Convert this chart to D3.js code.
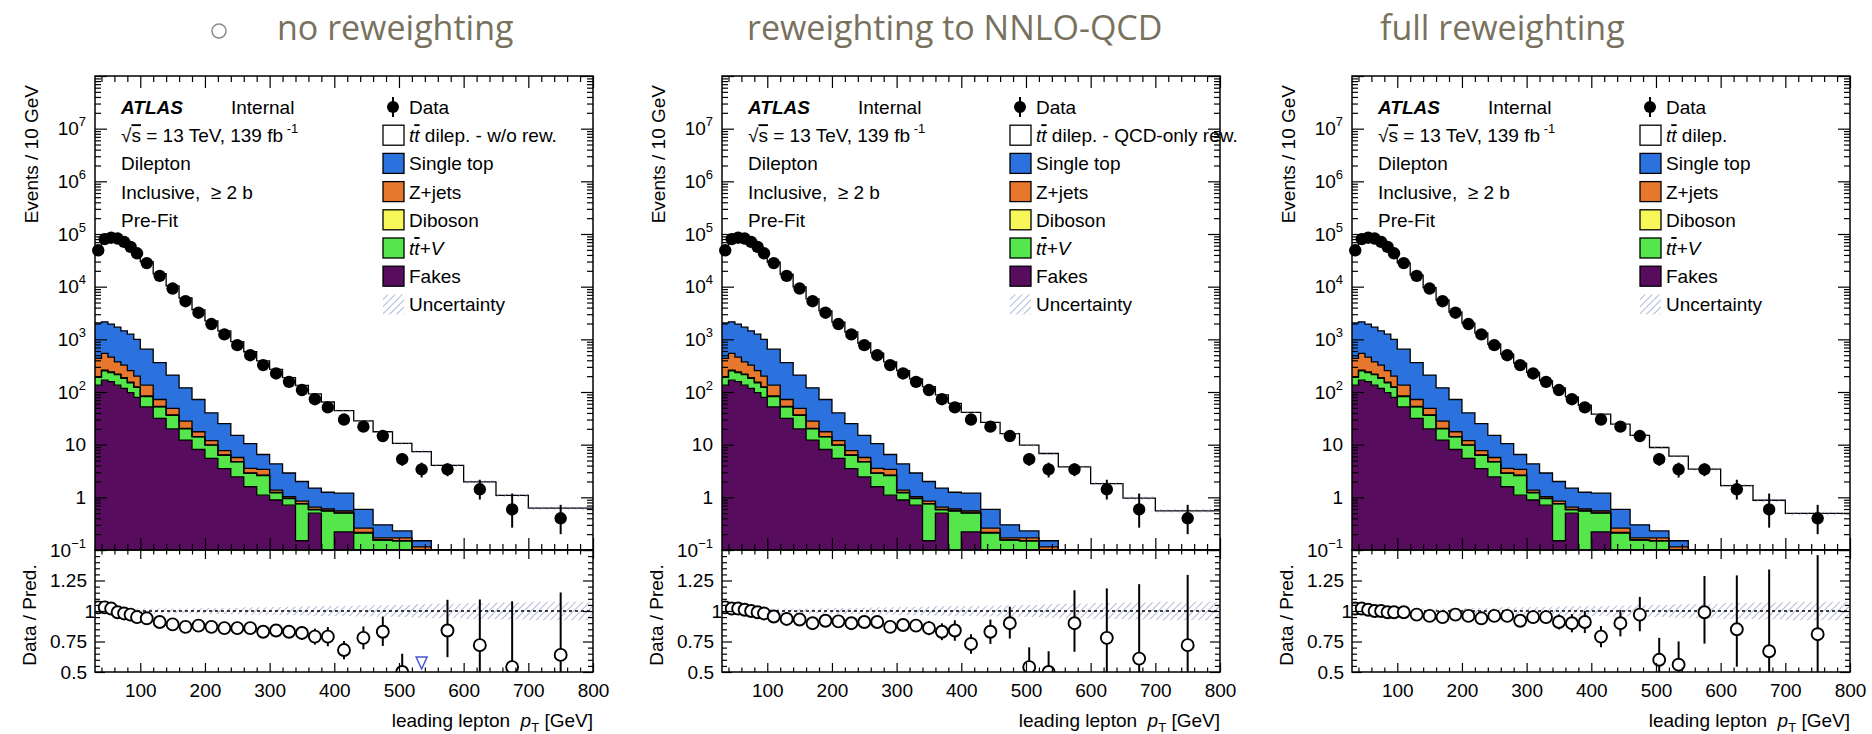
<!DOCTYPE html>
<html>
<head>
<meta charset="utf-8">
<script src="https://cdn.jsdelivr.net/npm/d3@7"></script>
<style>
  body { margin: 0; background: #fff; }
  svg text { font-family: "Liberation Sans", Arial, Helvetica, sans-serif; }
</style>
</head>
<body>
<svg id="chart" width="1872" height="734"></svg>
<script>
// bin edges of leading lepton pT [GeV]
const binEdges = [30,40,50,60,70,80,90,100,120,140,160,180,200,220,240,260,280,300,320,340,360,380,400,430,460,490,520,550,600,650,700,800];

// data, events / 10 GeV (same in all three panels)
const dataVals = [49000,80000,85000,82000,71000,57000,43000,28000,16000,9200,5300,3200,1950,1240,775,500,324,225,156,109,73,51,30,22,14.6,5.3,3.4,3.4,1.42,0.59,0.40];
const dataErrUp = [0.005,0.004,0.004,0.004,0.004,0.004,0.005,0.005,0.006,0.008,0.011,0.013,0.016,0.02,0.025,0.032,0.04,0.047,0.057,0.068,0.083,0.1,0.11,0.12,0.15,0.3,0.34,0.3,0.52,1.0,0.8];
const dataErrDn = [0.005,0.004,0.004,0.004,0.004,0.004,0.005,0.005,0.006,0.008,0.011,0.013,0.016,0.02,0.025,0.032,0.04,0.047,0.057,0.068,0.083,0.1,0.11,0.12,0.14,0.25,0.3,0.26,0.36,0.55,0.5];

// backgrounds, events / 10 GeV
const fakes     = [135,168,158,135,117,97,79,52,31.6,20,12.2,8.1,5.5,3.5,2.45,1.59,1.1,0.89,0.71,0.15,0.5,0,0.22,0,0,0,0,0,0,0,0];
const ttV       = [54,85,76,79,65,53,43,30,20.4,16,7.8,5.9,4.3,2.8,2.25,1.26,1.5,0.33,0.24,0.6,0.08,0.55,0.28,0.21,0.155,0.15,0.1,0,0,0,0];
const diboson   = [6,7,6,5,4.5,3.5,2.8,2,1.1,0.7,0.4,0.25,0.15,0.1,0.07,0.05,0.04,0.02,0.015,0.01,0.01,0.01,0.005,0.005,0,0,0,0,0,0,0];
const zjets     = [240,280,220,153,136,100,75,51,18.9,12.3,7.6,3.35,1.95,1.3,0.93,0.65,0.76,0.13,0.065,0.09,0.06,0.04,0.045,0.045,0.015,0.02,0.015,0,0,0,0];
const singleTop = [1615,1610,1490,1328,1127,997,800,515,288,161,92,54.4,28.1,17.3,9.3,6.95,3.1,2.93,1.87,1.15,0.85,0.65,0.65,0.33,0.13,0.06,0.035,0,0,0,0];

// Data / Pred. for each reweighting
const ratioNoRew = [1.03,1.03,1.02,0.99,0.98,0.97,0.95,0.94,0.91,0.89,0.87,0.88,0.87,0.86,0.86,0.86,0.83,0.84,0.83,0.82,0.79,0.79,0.68,0.78,0.83,0.50,0.46,0.84,0.72,0.54,0.64];
const ratioNNLO  = [1.03,1.02,1.02,1.01,1.00,0.99,0.98,0.955,0.935,0.93,0.90,0.92,0.915,0.90,0.91,0.91,0.87,0.885,0.88,0.86,0.83,0.84,0.73,0.83,0.90,0.54,0.50,0.90,0.78,0.61,0.72];
const ratioFull  = [1.02,1.02,1.01,1.00,1.00,0.99,0.99,0.99,0.97,0.96,0.95,0.97,0.96,0.94,0.96,0.96,0.92,0.95,0.95,0.91,0.90,0.91,0.79,0.90,0.97,0.60,0.56,0.99,0.85,0.67,0.81];

// relative total uncertainty of the prediction
const predUnc = [0.02,0.02,0.02,0.02,0.02,0.02,0.02,0.02,0.02,0.02,0.02,0.022,0.024,0.025,0.027,0.03,0.03,0.032,0.034,0.036,0.038,0.04,0.042,0.045,0.048,0.05,0.055,0.06,0.065,0.07,0.075];

const titles = ["no reweighting", "reweighting to NNLO-QCD", "full reweighting"];
const ttbarLabels = [" dilep. - w/o rew.", " dilep. - QCD-only rew.", " dilep."];
const ratios = [ratioNoRew, ratioNNLO, ratioFull];
const infoLines = ["Dilepton", "Inclusive,  \u2265 2 b", "Pre-Fit"];
const xMajor = [100,200,300,400,500,600,700,800];
const ratioMajor = [0.5,0.75,1,1.25,1.5];

const svg = d3.select("#chart");
const W = 498, TOP = 76, SPLIT = 550, BOT = 672;
const lefts = [95, 722, 1352];
const titleX = [277, 747, 1380];

const colors = { fakes: "#570c5e", ttV: "#54e64a", diboson: "#f7f75a", zjets: "#e8772e", single: "#2b72df" };
const stackKeys = ["fakes", "ttV", "diboson", "zjets", "single"];

const bins = binEdges.slice(0, -1).map((lo, i) => ({ lo, hi: binEdges[i + 1], c: (lo + binEdges[i + 1]) / 2 }));
const rows = bins.map((b, i) => ({ fakes: fakes[i], ttV: ttV[i], diboson: diboson[i], zjets: zjets[i], single: singleTop[i] }));
const layers = d3.stack().keys(stackKeys)(rows);

const defs = svg.append("defs");
defs.append("pattern").attr("id", "hatch")
  .attr("patternUnits", "userSpaceOnUse").attr("width", 5).attr("height", 5)
  .attr("patternTransform", "rotate(45)")
  .append("line").attr("x1", 0).attr("y1", 0).attr("x2", 0).attr("y2", 5)
  .attr("stroke", "#7f88bd").attr("stroke-width", 1.2);

const x = d3.scaleLinear().domain([30, 800]).range([0, W]);
const yU = d3.scaleLog().domain([0.1, 1e8]).range([SPLIT, TOP]).clamp(true);
const yR = d3.scaleLinear().domain([0.5, 1.5]).range([BOT, SPLIT]);

const decades = d3.range(-1, 9).map(k => Math.pow(10, k));
const logMinor = [];
for (let k = -1; k < 8; k++) for (let m = 2; m < 10; m++) logMinor.push(m * Math.pow(10, k));
const xMinor = d3.range(40, 800, 20).filter(v => v % 100 !== 0);
const ratioMinor = d3.range(0.55, 1.5, 0.05).filter(v => Math.abs(v * 4 - Math.round(v * 4)) > 1e-6);

const stepPts = (lo, hi) => bins.flatMap((b, i) => [{ x: b.lo, a: lo(i), b: hi(i) }, { x: b.hi, a: lo(i), b: hi(i) }]);
const safe = v => Math.max(v, 1e-4);

function supLabel(sel) {
  sel.each(function (d) {
    const t = d3.select(this);
    t.text(null);
    const e = Math.round(Math.log10(d));
    if (e === 8) return;
    if (e === 0) t.text("1");
    else if (e === 1) t.text("10");
    else {
      t.append("tspan").text("10");
      t.append("tspan").attr("dy", -9).attr("font-size", 13).text(e < 0 ? "\u2212" + (-e) : e);
    }
  });
}

function styleAxis(g, size) {
  g.select(".domain").remove();
  g.selectAll("line").attr("stroke", "#000").attr("stroke-width", 1.2);
  g.attr("font-size", size || 19).attr("fill", "#000");
  g.selectAll("text").attr("fill", "#000");
}

lefts.forEach((left, p) => {
  const ratio = ratios[p];
  const total = dataVals.map((d, i) => d / ratio[i]);
  const bkgTop = layers[layers.length - 1].map(d => d[1]);
  const g = svg.append("g").attr("transform", `translate(${left},0)`);

  g.append("clipPath").attr("id", "clipU" + p).append("rect").attr("x", 0).attr("y", TOP).attr("width", W).attr("height", SPLIT - TOP);
  g.append("clipPath").attr("id", "clipR" + p).append("rect").attr("x", 0).attr("y", SPLIT).attr("width", W).attr("height", BOT - SPLIT);

  const up = g.append("g").attr("clip-path", `url(#clipU${p})`);
  const area = d3.area().x(d => x(d.x)).y0(d => yU(safe(d.a))).y1(d => yU(safe(d.b)));
  const line = d3.line().x(d => x(d.x)).y(d => yU(safe(d.b)));

  // ttbar on top of the backgrounds (white)
  const ttPts = stepPts(i => bkgTop[i], i => total[i]);
  up.append("path").attr("d", area(ttPts)).attr("fill", "#fff");
  layers.forEach(L => {
    const pts = stepPts(i => L[i][0], i => L[i][1]);
    up.append("path").attr("d", area(pts)).attr("fill", colors[L.key]);
  });
  layers.forEach(L => {
    const pts = stepPts(i => L[i][0], i => L[i][1]);
    up.append("path").attr("d", line(pts)).attr("fill", "none").attr("stroke", "#000").attr("stroke-width", 1.3);
  });
  up.append("path").attr("d", line(ttPts)).attr("fill", "none").attr("stroke", "#000").attr("stroke-width", 1.3);
  // uncertainty band on the prediction
  up.append("path").attr("d", area(stepPts(i => total[i] * (1 - predUnc[i]), i => total[i] * (1 + predUnc[i]))))
    .attr("fill", "url(#hatch)");

  // data
  const dg = g.append("g");
  bins.forEach((b, i) => {
    dg.append("line").attr("x1", x(b.c)).attr("x2", x(b.c))
      .attr("y1", yU(dataVals[i] * (1 - dataErrDn[i]))).attr("y2", yU(dataVals[i] * (1 + dataErrUp[i])))
      .attr("stroke", "#000").attr("stroke-width", 2);
    dg.append("circle").attr("cx", x(b.c)).attr("cy", yU(dataVals[i])).attr("r", 6.2).attr("fill", "#000");
  });

  // ratio panel
  const rp = g.append("g").attr("clip-path", `url(#clipR${p})`);
  const rArea = d3.area().x(d => x(d.x)).y0(d => yR(d.a)).y1(d => yR(d.b));
  rp.append("path").attr("d", rArea(stepPts(i => 1 - predUnc[i], i => 1 + predUnc[i]))).attr("fill", "url(#hatch)");
  rp.append("line").attr("x1", 0).attr("x2", W).attr("y1", yR(1)).attr("y2", yR(1))
    .attr("stroke", "#000").attr("stroke-width", 1.6).attr("stroke-dasharray", "3,3");
  bins.forEach((b, i) => {
    const r = ratio[i];
    const hi = r * (1 + dataErrUp[i]), lo = r * (1 - dataErrDn[i]);
    if (r < 0.5) {
      const apex = yR(0.5) - 3;
      if (hi > 0.5) rp.append("line").attr("x1", x(b.c)).attr("x2", x(b.c)).attr("y1", apex - 12).attr("y2", yR(hi))
        .attr("stroke", "#000").attr("stroke-width", 2);
      rp.append("path").attr("d", `M${x(b.c) - 5.5},${apex - 12}L${x(b.c) + 5.5},${apex - 12}L${x(b.c)},${apex}Z`)
        .attr("fill", "#fff").attr("stroke", "#4a55d6").attr("stroke-width", 1.5);
      return;
    }
    rp.append("line").attr("x1", x(b.c)).attr("x2", x(b.c)).attr("y1", yR(lo)).attr("y2", yR(hi))
      .attr("stroke", "#000").attr("stroke-width", 2);
    rp.append("circle").attr("cx", x(b.c)).attr("cy", yR(r)).attr("r", 6)
      .attr("fill", "#fff").attr("stroke", "#000").attr("stroke-width", 1.9);
  });

  // axes (inward ticks, ROOT style)
  g.append("g").call(d3.axisLeft(yU).tickValues(decades).tickSize(-12).tickPadding(9))
    .call(a => styleAxis(a)).call(a => a.selectAll("text").call(supLabel));
  g.append("g").call(d3.axisLeft(yU).tickValues(logMinor).tickSize(-6).tickFormat("")).call(a => styleAxis(a));
  g.append("g").attr("transform", `translate(${W},0)`).call(d3.axisRight(yU).tickValues(decades).tickSize(-12).tickFormat("")).call(a => styleAxis(a));
  g.append("g").attr("transform", `translate(${W},0)`).call(d3.axisRight(yU).tickValues(logMinor).tickSize(-6).tickFormat("")).call(a => styleAxis(a));

  [[TOP, d3.axisTop, -12, -6], [SPLIT, d3.axisBottom, -12, -6], [SPLIT, d3.axisTop, -9, -4.5], [BOT, d3.axisBottom, -9, -4.5]]
    .forEach(([yy, ax, big, small]) => {
      g.append("g").attr("transform", `translate(0,${yy})`).call(ax(x).tickValues(xMajor).tickSize(big).tickFormat("")).call(a => styleAxis(a));
      g.append("g").attr("transform", `translate(0,${yy})`).call(ax(x).tickValues(xMinor).tickSize(small).tickFormat("")).call(a => styleAxis(a));
    });

  g.append("g").attr("transform", `translate(0,${BOT})`)
    .call(d3.axisBottom(x).tickValues(xMajor).tickSize(0).tickPadding(11.5).tickFormat(d3.format("d")))
    .call(a => styleAxis(a));

  g.append("g").call(d3.axisLeft(yR).tickValues(ratioMajor).tickSize(-10).tickPadding(8).tickFormat(d => d === 1.5 ? "" : String(d)))
    .call(a => styleAxis(a))
    .call(a => a.selectAll("text").filter(d => d === 1).attr("x", 0));
  g.append("g").call(d3.axisLeft(yR).tickValues(ratioMinor).tickSize(-5).tickFormat("")).call(a => styleAxis(a));
  g.append("g").attr("transform", `translate(${W},0)`).call(d3.axisRight(yR).tickValues(ratioMajor).tickSize(-10).tickFormat("")).call(a => styleAxis(a));
  g.append("g").attr("transform", `translate(${W},0)`).call(d3.axisRight(yR).tickValues(ratioMinor).tickSize(-5).tickFormat("")).call(a => styleAxis(a));

  // frames
  g.append("rect").attr("x", 0).attr("y", TOP).attr("width", W).attr("height", SPLIT - TOP)
    .attr("fill", "none").attr("stroke", "#000").attr("stroke-width", 1.5);
  g.append("rect").attr("x", 0).attr("y", SPLIT).attr("width", W).attr("height", BOT - SPLIT)
    .attr("fill", "none").attr("stroke", "#000").attr("stroke-width", 1.5);

  // axis titles
  g.append("text").attr("transform", `translate(-57,${TOP + 9}) rotate(-90)`).attr("text-anchor", "end")
    .attr("font-size", 19).text("Events / 10 GeV");
  g.append("text").attr("transform", `translate(-59,${(SPLIT + BOT) / 2 + 4}) rotate(-90)`).attr("text-anchor", "middle")
    .attr("font-size", 19).text("Data / Pred.");
  const xt = g.append("text").attr("x", W).attr("y", 727).attr("text-anchor", "end").attr("font-size", 19).style("white-space", "pre");
  xt.append("tspan").text("leading lepton  ");
  xt.append("tspan").attr("font-style", "italic").text("p");
  xt.append("tspan").attr("font-size", 13).attr("dy", 5).text("T");
  xt.append("tspan").attr("dy", -5).text(" [GeV]");

  // ATLAS label and info
  const rowY = d3.range(8).map(k => 107 + k * 28.2);
  g.append("text").attr("x", 26).attr("y", rowY[0] + 7).attr("font-size", 19)
    .attr("font-weight", "bold").attr("font-style", "italic").text("ATLAS");
  g.append("text").attr("x", 136).attr("y", rowY[0] + 7).attr("font-size", 19).text("Internal");
  const rs = g.append("text").attr("x", 26).attr("y", rowY[1] + 7).attr("font-size", 19);
  rs.append("tspan").text("\u221A");
  rs.append("tspan").style("text-decoration", "overline").text("s");
  rs.append("tspan").text(" = 13 TeV, 139 fb");
  rs.append("tspan").attr("dy", -9).attr("font-size", 13).text(" -1");
  infoLines.forEach((t, k) => {
    g.append("text").attr("x", 26).attr("y", rowY[k + 2] + 7).attr("font-size", 19).style("white-space", "pre").text(t);
  });

  // legend
  const lx = 288, tx = 314;
  g.append("line").attr("x1", lx + 10).attr("x2", lx + 10).attr("y1", rowY[0] - 10).attr("y2", rowY[0] + 10)
    .attr("stroke", "#000").attr("stroke-width", 2);
  g.append("circle").attr("cx", lx + 10).attr("cy", rowY[0]).attr("r", 6).attr("fill", "#000");
  g.append("text").attr("x", tx).attr("y", rowY[0] + 7).attr("font-size", 19).text("Data");

  const boxes = [["#fff", null], [colors.single, "Single top"], [colors.zjets, "Z+jets"], [colors.diboson, "Diboson"], [colors.ttV, null], [colors.fakes, "Fakes"]];
  boxes.forEach(([c, label], k) => {
    const cy = rowY[k + 1];
    g.append("rect").attr("x", lx).attr("y", cy - 10).attr("width", 21).attr("height", 20)
      .attr("fill", c).attr("stroke", "#000").attr("stroke-width", 1.3);
    const t = g.append("text").attr("x", tx).attr("y", cy + 7).attr("font-size", 19);
    if (label) { t.text(label); return; }
    t.append("tspan").attr("font-style", "italic").text("t");
    t.append("tspan").attr("font-style", "italic").style("text-decoration", "overline").text("t");
    if (k === 0) t.append("tspan").text(ttbarLabels[p]);
    else { t.append("tspan").attr("font-style", "italic").text("+V"); }
  });
  g.append("rect").attr("x", lx).attr("y", rowY[7] - 10).attr("width", 21).attr("height", 20).attr("fill", "url(#hatch)");
  g.append("text").attr("x", tx).attr("y", rowY[7] + 7).attr("font-size", 19).text("Uncertainty");

  // slide title
  svg.append("text").attr("x", titleX[p]).attr("y", 40).attr("font-size", 34)
    .style("font-family", "'Open Sans', sans-serif").attr("fill", "#78715e").text(titles[p]);
});

svg.append("circle").attr("cx", 219).attr("cy", 31).attr("r", 7)
  .attr("fill", "none").attr("stroke", "#8a8a8a").attr("stroke-width", 1.5);
</script>
</body>
</html>
